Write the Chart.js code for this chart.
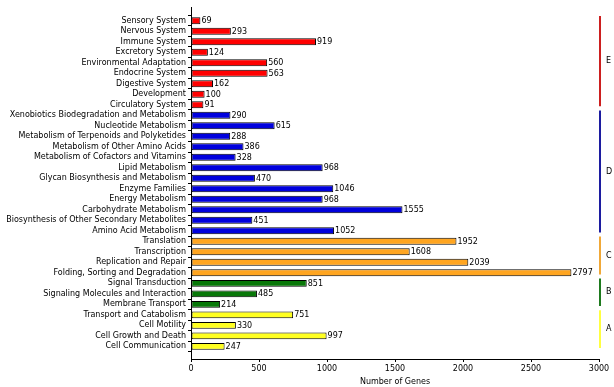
<!DOCTYPE html>
<html>
<head>
<meta charset="utf-8">
<script src="https://cdn.jsdelivr.net/npm/chart.js@4"></script>
<style>
  body { margin: 0; background: #fff; }
  #wrap { width: 614px; height: 387px; }
</style>
</head>
<body>
<div id="wrap"><canvas id="chart"></canvas></div>
<script>
const categories = [
  'Sensory System', 'Nervous System', 'Immune System', 'Excretory System',
  'Environmental Adaptation', 'Endocrine System', 'Digestive System', 'Development',
  'Circulatory System',
  'Xenobiotics Biodegradation and Metabolism', 'Nucleotide Metabolism',
  'Metabolism of Terpenoids and Polyketides', 'Metabolism of Other Amino Acids',
  'Metabolism of Cofactors and Vitamins', 'Lipid Metabolism',
  'Glycan Biosynthesis and Metabolism', 'Enzyme Families', 'Energy Metabolism',
  'Carbohydrate Metabolism', 'Biosynthesis of Other Secondary Metabolites',
  'Amino Acid Metabolism',
  'Translation', 'Transcription', 'Replication and Repair', 'Folding, Sorting and Degradation',
  'Signal Transduction', 'Signaling Molecules and Interaction', 'Membrane Transport',
  'Transport and Catabolism', 'Cell Motility', 'Cell Growth and Death', 'Cell Communication'
];
const geneCounts = [
  69, 293, 919, 124, 560, 563, 162, 100, 91,
  290, 615, 288, 386, 328, 968, 470, 1046, 968, 1555, 451, 1052,
  1952, 1608, 2039, 2797,
  851, 485, 214,
  751, 330, 997, 247
];
const groupNames = ['E', 'D', 'C', 'B', 'A'];
const groupSizes = [9, 12, 4, 3, 4];
const groupColors = ['#ff0000', '#0000dd', '#ffa520', '#087808', '#ffff20'];
const groupLineColors = ['#cc1f1f', '#1c1ca0', '#f0a838', '#1e7a1e', '#ffff40'];
const xTicks = [0, 500, 1000, 1500, 2000, 2500, 3000];

// group index for every category
const groupOf = [];
groupSizes.forEach((n, g) => { for (let i = 0; i < n; i++) groupOf.push(g); });

const FONT = "'DejaVu Sans', sans-serif";

const valueLabels = {
  id: 'valueLabels',
  afterDatasetsDraw(chart) {
    const ctx = chart.ctx;
    const meta = chart.getDatasetMeta(0);
    ctx.save();
    ctx.font = '8px ' + FONT;
    ctx.fillStyle = '#000';
    ctx.textBaseline = 'middle';
    ctx.textAlign = 'left';
    meta.data.forEach((bar, i) => {
      ctx.fillText(String(geneCounts[i]), bar.x + 1, bar.y + 0.5);
    });
    ctx.restore();
  }
};

const groupBrackets = {
  id: 'groupBrackets',
  afterDraw(chart) {
    const ctx = chart.ctx;
    const y = chart.scales.y;
    const x = chart.scales.x.getPixelForValue(3000) + 1;
    ctx.save();
    ctx.font = '8px ' + FONT;
    ctx.textBaseline = 'middle';
    ctx.textAlign = 'left';
    let start = 0;
    groupSizes.forEach((n, g) => {
      const top = y.getPixelForValue(start - 0.45);
      const bottom = y.getPixelForValue(start + n - 1 + 0.15);
      ctx.strokeStyle = groupLineColors[g];
      ctx.lineWidth = 2;
      ctx.beginPath();
      ctx.moveTo(x, top);
      ctx.lineTo(x, bottom);
      ctx.stroke();
      ctx.fillStyle = '#000';
      ctx.fillText(groupNames[g], x + 6, (top + bottom) / 2);
      start += n;
    });
    ctx.restore();
  }
};

new Chart(document.getElementById('chart'), {
  type: 'bar',
  data: {
    datasets: [{
      data: geneCounts.map((v, i) => ({ x: v, y: i })),
      backgroundColor: geneCounts.map((v, i) => groupColors[groupOf[i]]),
      borderColor: '#000',
      borderWidth: 1,
      borderSkipped: false,
      categoryPercentage: 1,
      barPercentage: 0.66
    }]
  },
  options: {
    indexAxis: 'y',
    responsive: true,
    maintainAspectRatio: false,
    animation: false,
    layout: { padding: { top: 7, right: 15, left: 0, bottom: 0 } },
    plugins: {
      legend: { display: false },
      tooltip: { enabled: false }
    },
    scales: {
      x: {
        type: 'linear',
        min: 0,
        max: 3000,
        afterBuildTicks: (s) => { s.ticks = xTicks.map((v) => ({ value: v })); },
        afterFit: (s) => { s.height = 28; },
        grid: { drawOnChartArea: false, tickLength: 3, tickColor: '#000' },
        border: { display: true, color: '#000', width: 1 },
        ticks: {
          color: '#000',
          font: { family: FONT, size: 8 },
          padding: 2,
          maxRotation: 0,
          callback: (v) => String(v)
        },
        title: {
          display: true,
          text: 'Number of Genes',
          color: '#000',
          font: { family: FONT, size: 8 },
          padding: { top: 1, bottom: 0 }
        }
      },
      y: {
        type: 'linear',
        reverse: true,
        offset: false,
        min: -1.3,
        max: 32.2,
        afterBuildTicks: (s) => { s.ticks = categories.map((c, i) => ({ value: i })); },
        afterFit: (s) => { s.width = 191; },
        grid: { drawOnChartArea: false, tickLength: 3, tickColor: '#000' },
        border: { display: true, color: '#000', width: 1 },
        ticks: {
          color: '#000',
          font: { family: FONT, size: 8 },
          padding: 2,
          autoSkip: false,
          callback: (v) => categories[v] ?? ''
        }
      }
    }
  },
  plugins: [valueLabels, groupBrackets]
});
</script>
</body>
</html>
